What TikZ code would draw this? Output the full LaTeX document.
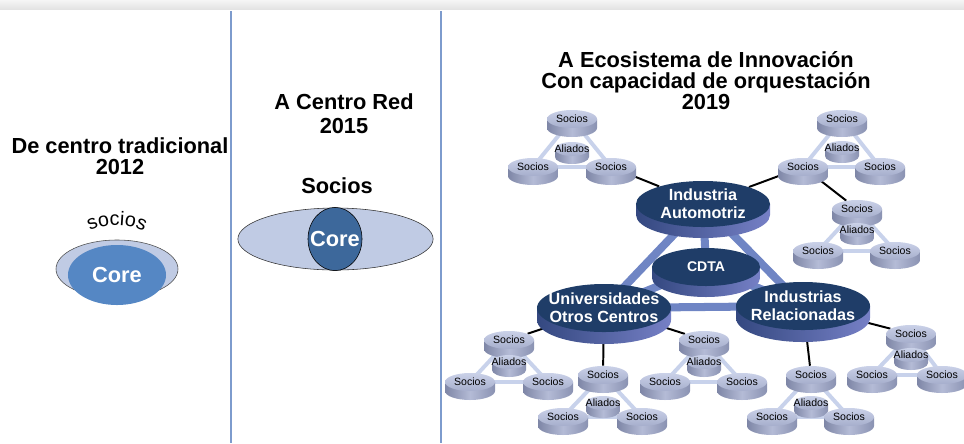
\documentclass[tikz,border=0pt]{standalone}
\usepackage{fontspec}
\setmainfont{Liberation Sans}
\usepackage{tikz}
\usetikzlibrary{shapes.geometric, decorations.text}
\definecolor{navy}{RGB}{31,61,104}
\definecolor{hubA}{RGB}{52,72,128}
\definecolor{hubB}{RGB}{118,128,198}
\definecolor{barra}{RGB}{111,133,196}
\definecolor{lazo}{RGB}{200,210,235}
\definecolor{discoA}{RGB}{202,209,232}
\definecolor{discoB}{RGB}{166,174,204}
\definecolor{ladoA}{RGB}{126,134,166}
\definecolor{ladoB}{RGB}{138,146,178}
\definecolor{ladoC}{RGB}{180,187,214}
\definecolor{claro}{RGB}{192,203,228}
\definecolor{nucleoA}{RGB}{85,135,196}
\definecolor{nucleoB}{RGB}{61,104,155}
\definecolor{divisor}{RGB}{125,155,205}

\pgfdeclarelayer{background}
\pgfsetlayers{background,main}

% disco: nombre, x, y, rx, ry, fondo, estilo, texto
\newcommand{\disco}[8]{%
  \shade[#7 lado] (#2-#4,#3) -- (#2-#4,#3+#6)
    arc[start angle=180, end angle=0, x radius=#4, y radius=#5] -- (#2+#4,#3) -- cycle;
  \node[#7, inner xsep=-60pt, inner ysep=-20pt, minimum width=#4*0.05cm,
    minimum height=#5*0.05cm] (#1) at (#2,#3) {#8};
}
% grupo: prefijo, x, y, dx izq, dx der, dy, dy aliados
\newcommand{\grupo}[7]{%
  \disco{#1t}{#2}{#3}{25}{9}{9}{socio}{Socios}
  \disco{#1a}{#2}{#3+#7}{17}{7}{8}{socio}{Aliados}
  \disco{#1l}{#2-#4}{#3+#6}{25}{9}{9}{socio}{Socios}
  \disco{#1r}{#2+#5}{#3+#6}{25}{9}{9}{socio}{Socios}
  \begin{pgfonlayer}{background}
    \draw[enlace] (#1t.center) -- (#1l.center) -- (#1r.center) -- cycle;
  \end{pgfonlayer}
}

\begin{document}
\begin{tikzpicture}[x=0.025cm, y=-0.025cm,
    titulo/.style={font=\fontsize{15.5}{15}\selectfont\bfseries, align=center},
    socio/.style={ellipse, top color=discoA, bottom color=discoB,
      font=\fontsize{7.5}{8}\selectfont},
    socio lado/.style={left color=ladoA, right color=ladoB, middle color=ladoC},
    hub/.style={ellipse, fill=navy, text=white, align=center,
      font=\fontsize{11.5}{13}\selectfont\bfseries},
    hub lado/.style={left color=hubA, right color=hubB},
    cdta/.style={hub, font=\fontsize{10}{12}\selectfont\bfseries},
    cdta lado/.style={hub lado},
    eje/.style={line width=5.7pt, barra},
    enlace/.style={line width=2.8pt, lazo},
    conector/.style={line width=1.4pt, black}]
  \useasboundingbox (0,0) rectangle (964,443);

  % franja superior y divisores
  \shade[top color=gray!8, bottom color=gray!22] (0,0) rectangle (964,9);
  \draw[divisor, line width=0.8pt] (231,11) -- (231,443);
  \draw[divisor, line width=0.8pt] (441,11) -- (441,443);

  % 2012
  \node[titulo] (t1) at (120,156) {De centro tradicional\\2012};
  \path[decorate, decoration={text along path, text align=center,
      text={|\fontsize{14}{14}\selectfont|socios}}]
    (86,234) .. controls (100,222) and (134,222) .. (148,234);
  \node[ellipse, draw=gray!60!black, fill=claro, minimum width=3.05cm,
    minimum height=1.45cm] (socios1) at (117,269) {};
  \node[ellipse, fill=nucleoA, minimum width=2.45cm, minimum height=1.5cm,
    text=white, font=\fontsize{15.5}{16}\selectfont\bfseries] (core1) at (117,275) {Core};

  % 2015
  \node[titulo, font=\fontsize{15.5}{17}\selectfont\bfseries] (t2) at (344,114) {A Centro Red\\2015};
  \node[titulo] (s2) at (337,186) {Socios};
  \node[ellipse, draw=gray!40!black, fill=claro, minimum width=4.88cm,
    minimum height=1.55cm] (socios2) at (335.5,239) {};
  \node[ellipse, draw=black, fill=nucleoB, minimum width=1.35cm, minimum height=1.58cm,
    inner xsep=-40pt, inner ysep=-20pt, text=white,
    font=\fontsize{15.5}{16}\selectfont\bfseries] (core2) at (335,239) {Core};

  % 2019
  \node[titulo] (t3) at (706,81) {A Ecosistema de Innovación\\Con capacidad de orquestación\\2019};

  % nodos centrales
  \disco{auto}{703}{204}{67}{23}{11}{hub}{Industria\\Automotriz}
  \disco{cdta}{706}{267}{54}{19}{11}{cdta}{CDTA}
  \disco{univ}{604}{308}{67}{24}{12}{hub}{Universidades\\Otros Centros}
  \disco{rel}{803}{306}{67}{24}{12}{hub}{Industrias\\Relacionadas}

  % grupos de socios
  \grupo{c1}{572}{119}{39}{39}{48}{30}
  \grupo{c2}{842}{119}{39}{38}{48}{29}
  \grupo{c3}{857}{209}{39}{38}{42}{21}
  \grupo{c4}{509}{340}{39}{39}{42}{22}
  \grupo{c5}{603}{375}{40}{39}{42}{28}
  \grupo{c6}{704}{340}{39}{38}{42}{22}
  \grupo{c7}{811}{375}{39}{38}{42}{28}
  \grupo{c8}{911}{334}{39}{31}{41}{21}

  % enlaces
  \begin{pgfonlayer}{background}
    \draw[eje] (auto.center) -- (univ.center) -- (rel.center) -- cycle;
    \draw[eje] (cdta.center) -- (auto.center);
    \draw[eje] (cdta.center) -- (univ.center);
    \draw[eje] (cdta.center) -- (rel.center);
    \draw[conector] (c1r) -- (auto);
    \draw[conector] (c2l) -- (auto);
    \draw[conector] (c2l) -- (c3t);
    \draw[conector] (c4t) -- (univ);
    \draw[conector] (c5t) -- (univ);
    \draw[conector] (c6t) -- (univ);
    \draw[conector] (c7t) -- (rel);
    \draw[conector] (c8t) -- (rel);
  \end{pgfonlayer}
\end{tikzpicture}
\end{document}
